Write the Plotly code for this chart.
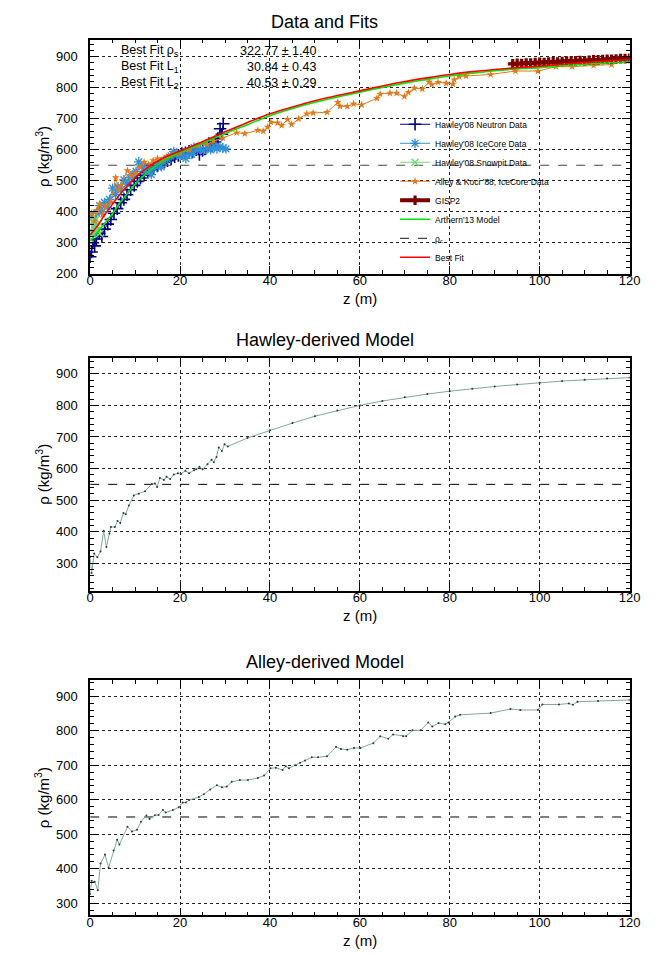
import plotly.graph_objects as go

# ---------------- data ----------------
Z_MIN, Z_MAX = 0, 120
RHO_C = 550

neutron_z = [0.0, 0.3, 0.6, 1.0, 1.4, 2.0, 2.6, 3.2, 3.9, 4.6, 5.3, 6.0, 6.8, 7.5, 8.2, 9.0, 9.8, 10.5, 11.2, 12.0,
             12.8, 13.5, 14.1, 15.0, 15.8, 16.5, 17.2, 18.0, 18.8, 19.6, 20.4, 21.2, 22.0, 22.8, 23.6, 24.3, 25.0,
             25.7, 26.4, 27.1, 27.8, 28.4, 28.9, 29.3, 29.6]
neutron_rho = [255, 270, 300, 290, 312, 330, 320, 344, 360, 375, 395, 410, 429, 440, 455, 471, 485, 498, 509, 518,
               528, 535, 540, 548, 555, 560, 565, 570, 578, 582, 588, 590, 595, 593, 600, 585, 598, 605, 620, 612,
               625, 636, 668, 650, 684]

icecore_z = [0.2, 0.6, 1.0, 1.5, 2.1, 2.6, 3.2, 3.8, 4.3, 5.0, 5.6, 6.2, 6.8, 7.5, 8.2, 8.8, 9.5, 10.2, 10.8, 11.5,
             12.2, 13.0, 13.6, 14.2, 15.0, 15.8, 16.4, 17.2, 18.0, 18.6, 19.3, 20.0, 20.7, 21.3, 22.0, 22.6, 23.1,
             23.8, 24.5, 25.2, 26.0, 26.8, 27.5, 28.2, 28.9, 29.5, 30.2]
icecore_rho = [385, 330, 360, 395, 420, 400, 430, 415, 440, 476, 455, 480, 470, 503, 490, 510, 520, 530, 561, 545,
               530, 545, 520, 540, 555, 545, 560, 570, 580, 594, 585, 578, 590, 572, 595, 585, 608, 598, 603, 596,
               608, 600, 612, 603, 610, 605, 603]

snowpit_z = [0.1, 0.3, 0.5, 0.7, 0.9, 1.1, 1.3, 1.6, 1.9, 2.1]
snowpit_rho = [310, 340, 370, 330, 385, 350, 375, 340, 365, 330]

alley_z = [0.3, 1.0, 1.5, 2.1, 2.8, 3.5, 4.6, 5.7, 6.3, 6.8,
           8.3, 9.0, 10.0, 11.0, 12.0, 13.0, 14.0, 15.0, 16.0, 17.0,
           18.0, 19.0, 20.0, 22.0, 24.0, 26.0, 27.5, 29.5, 32.6, 34.4,
           37.3, 38.5, 39.5, 40.2, 41.7, 42.6, 43.9, 44.8, 46.4, 48.2,
           49.6, 52.7, 55.1, 55.6, 57.2, 58.6, 60.4, 63.8, 64.5, 66.7,
           68.2, 69.9, 70.8, 72.1, 73.9, 75.4, 76.0, 77.4, 79.2, 80.7,
           81.0, 82.1, 83.6, 89.1, 94.6, 99.6, 103.6, 107.2, 112, 116]
alley_rho = [395, 370, 405, 425, 390, 420, 432, 510, 470, 485,
             533, 515, 525, 545, 560, 553, 565, 572, 568, 578,
             580, 588, 590, 600, 615, 618, 628, 638, 655, 652,
             663, 660, 673, 689, 687, 679, 698, 682, 700, 716,
             719, 721, 753, 740, 740, 748, 745, 766, 780, 783,
             783, 772, 785, 799, 796, 819, 810, 818, 815, 812,
             826, 836, 838, 843, 854, 854, 868, 868, 872, 875]

gisp2_z = [94, 95, 96, 97, 98, 99, 100, 101, 102, 103, 104, 105, 106, 107, 108, 109, 110, 111, 112, 113, 114,
           115, 116, 117, 118, 119, 120]
gisp2_rho = [877, 879, 878, 880, 880, 881, 882, 881, 883, 884, 883, 885, 886, 886, 887, 888, 887, 889, 890, 890,
             891, 892, 892, 893, 894, 894, 895]

model_z = [0, 1, 2, 3, 5, 7, 9, 11, 13, 15, 17, 20, 22.5, 25, 27.5, 30, 32.5, 35, 40, 45, 50, 55, 60, 65, 70,
           75, 80, 85, 90, 95, 100, 105, 110, 115, 120]
arthern_rho = [305, 322, 340, 358, 395, 437, 472, 504, 530, 552, 570, 592, 607, 621, 637, 652, 667, 681, 710, 733,
               753, 770, 786, 801, 815, 827, 838, 847, 855, 861, 865, 871, 876, 880, 884]
bestfit_rho = [325, 343, 362, 385, 425, 463, 495, 523, 545, 563, 578, 596, 611, 626, 642, 658, 673, 688, 716, 738,
               758, 775, 790, 806, 820, 832, 843, 852, 859, 865, 870, 876, 881, 886, 891]

hawley_model_z = [0, 0.3, 0.9, 1.6, 2.3, 3.0, 3.6, 4.3, 4.6, 5.5, 6.1, 6.7, 7.4, 7.9, 8.6, 9.7, 10.8, 12.2, 13.7,
                  14.4, 14.9, 15.5, 16.4, 17.0, 17.8, 18.6, 19.5, 20.2, 21.2, 22.0, 23.1, 23.6, 24.3, 25.0, 26.1,
                  27.0, 27.5, 28.1, 28.6, 29.3, 29.9, 30.6, 35, 40, 45, 50, 55, 60, 65, 70, 75, 80, 85, 90, 95,
                  100, 105, 110, 115, 120]
hawley_model_rho = [321, 269, 331, 319, 337, 403, 352, 394, 415, 415, 434, 428, 459, 455, 483, 515, 520, 528, 551,
                    553, 542, 570, 564, 574, 567, 581, 585, 583, 593, 585, 595, 598, 606, 598, 614,
                    628, 620, 637, 667, 656, 677, 670, 697, 721, 744, 766, 784, 800, 814, 826, 836, 845, 853, 860,
                    866, 872, 877, 881, 885, 888]

alley_model_z = [0, 0.3, 1.0, 1.7, 2.3, 3.3, 4.1, 5.2, 6.0, 6.5,
                 8.3, 9.3, 10.4, 11.3, 12.5, 13.2, 14.4, 15.2, 16.2, 16.8,
                 18.4, 19.7, 20.6, 21.3, 22.0, 24.2, 25.3, 26.7, 28.2, 29.3,
                 30.4, 31.5, 33.3, 35.1, 37.3, 38.7, 40.1, 41.3, 42.8, 43.5,
                 44.2, 45.6, 46.7, 47.8, 49.3, 50.7, 52.7, 54.7, 55.8, 57.2,
                 58.7, 60.1, 63.0, 64.5, 66.3, 67.4, 69.6, 70.3, 71.7, 73.5,
                 75.2, 76.1, 77.5, 79.0, 79.7, 81.2, 82.3, 89.1, 93.5, 95.7,
                 99.6, 100.6, 104.3, 106.5, 107.4, 108.4, 113.0, 120.0]
alley_model_rho = [327, 365, 362, 338, 415, 441, 403, 453, 484, 470,
                   522, 508, 513, 536, 554, 544, 555, 556, 570, 563,
                   570, 578, 592, 592, 599, 608, 616, 630, 642, 636,
                   638, 652, 657, 657, 663, 670, 691, 693, 686, 697,
                   691, 700, 707, 714, 723, 723, 726, 753, 747, 745,
                   750, 750, 764, 784, 777, 789, 784, 784, 801, 801,
                   824, 812, 822, 819, 824, 841, 846, 851, 863, 860,
                   860, 876, 876, 879, 875, 884, 886, 889]

fit_labels = ["Best Fit ρ<sub>s</sub>", "Best Fit L<sub>1</sub>", "Best Fit L<sub>2</sub>"]
fit_values = ["322.77 ± 1.40", "30.84 ± 0.43", "40.53 ± 0.29"]
panel_titles = ["Data and Fits", "Hawley-derived Model", "Alley-derived Model"]

# ---------------- layout geometry ----------------
W, H = 657, 957
FONT = "Liberation Sans, Arial, Helvetica, sans-serif"


def px_x(p):
    return p / W


def px_y(p):
    return 1 - p / H


X0, X1 = 80, 632
panels = [(32, 268, [200, 955]), (353, 588, [212, 950]), (678, 915, [265, 946])]

fig = go.Figure()

# top panel traces
fig.add_trace(go.Scatter(x=neutron_z, y=neutron_rho, mode="lines+markers", name="Hawley'08 Neutron Data",
                         line=dict(color="#000080", width=1),
                         marker=dict(symbol="cross-thin", size=9, line=dict(color="#000080", width=1.6)),
                         xaxis="x", yaxis="y"))
fig.add_trace(go.Scatter(x=icecore_z, y=icecore_rho, mode="lines+markers", name="Hawley'08 IceCore Data",
                         line=dict(color="#2e8fd6", width=1),
                         marker=dict(symbol="asterisk", size=8, line=dict(color="#2e8fd6", width=1.3)),
                         xaxis="x", yaxis="y"))
fig.add_trace(go.Scatter(x=snowpit_z, y=snowpit_rho, mode="lines+markers", name="Hawley'08 Snowpit Data",
                         line=dict(color="#72d872", width=1),
                         marker=dict(symbol="x-thin", size=7, line=dict(color="#72d872", width=1.3)),
                         xaxis="x", yaxis="y"))
fig.add_trace(go.Scatter(x=alley_z, y=alley_rho, mode="lines+markers", name="Alley & Koci '88, IceCore Data",
                         line=dict(color="#e07a1c", width=1),
                         marker=dict(symbol="star", size=6, color="#e07a1c"),
                         xaxis="x", yaxis="y"))
fig.add_trace(go.Scatter(x=gisp2_z, y=gisp2_rho, mode="lines+markers", name="GISP2",
                         line=dict(color="#7a0000", width=4),
                         marker=dict(symbol="cross", size=8, color="#7a0000"),
                         xaxis="x", yaxis="y"))
fig.add_trace(go.Scatter(x=model_z, y=arthern_rho, mode="lines", name="Arthern'13 Model",
                         line=dict(color="#00e600", width=1.6, shape="spline"),
                         xaxis="x", yaxis="y"))
fig.add_trace(go.Scatter(x=[Z_MIN, Z_MAX], y=[RHO_C, RHO_C], mode="lines", name="ρ<sub>c</sub>",
                         line=dict(color="#444", width=1.2, dash="dash"),
                         xaxis="x", yaxis="y"))
fig.add_trace(go.Scatter(x=model_z, y=bestfit_rho, mode="lines", name="Best Fit",
                         line=dict(color="#ff0000", width=1.6, shape="spline"),
                         xaxis="x", yaxis="y"))

# middle and bottom panels
for i, (zz, rr) in enumerate([(hawley_model_z, hawley_model_rho), (alley_model_z, alley_model_rho)], start=2):
    fig.add_trace(go.Scatter(x=[Z_MIN, Z_MAX], y=[RHO_C, RHO_C], mode="lines", showlegend=False,
                             line=dict(color="black", width=1, dash="dash"),
                             xaxis=f"x{i}", yaxis=f"y{i}"))
    fig.add_trace(go.Scatter(x=zz, y=rr, mode="lines+markers", showlegend=False,
                             line=dict(color="#7fa898", width=1),
                             marker=dict(size=2, color="#333"),
                             xaxis=f"x{i}", yaxis=f"y{i}"))

axis_common = dict(showline=True, linecolor="black", linewidth=1.5, mirror="allticks",
                   ticks="inside", ticklen=8, tickwidth=1, tickcolor="black",
                   showgrid=True, gridcolor="#222", griddash="dot", gridwidth=1,
                   zeroline=False, tickfont=dict(size=13, color="black", family=FONT))

layout = dict(width=W, height=H, margin=dict(l=0, r=0, t=0, b=0),
              paper_bgcolor="white", plot_bgcolor="white",
              font=dict(family=FONT, color="black"),
              showlegend=True,
              legend=dict(x=px_x(392), y=px_y(266), xanchor="left", yanchor="bottom",
                          bgcolor="rgba(0,0,0,0)", font=dict(size=8.5, family=FONT),
                          itemwidth=30, tracegroupgap=0))

annotations = []
for k, (ytop, ybot, yr) in enumerate(panels):
    sfx = "" if k == 0 else str(k + 1)
    layout["xaxis" + sfx] = dict(axis_common, domain=[px_x(X0), px_x(X1)], range=[Z_MIN, Z_MAX],
                                 dtick=20, tick0=0, anchor="y" + sfx, ticklabelstandoff=-6,
                                 minor=dict(ticks="inside", ticklen=4, tickcolor="black", dtick=5,
                                            showgrid=False))
    layout["yaxis" + sfx] = dict(axis_common, domain=[px_y(ybot), px_y(ytop)], range=yr,
                                 dtick=100, tick0=0, anchor="x" + sfx, ticklabelstandoff=8,
                                 minor=dict(ticks="inside", ticklen=4, tickcolor="black", dtick=20,
                                            showgrid=False))
    # panel title
    annotations.append(dict(text=panel_titles[k], x=px_x(320), y=px_y(ytop - 18), xref="paper", yref="paper",
                            showarrow=False, font=dict(size=18, family=FONT), xanchor="center", yanchor="middle"))
    # x title
    annotations.append(dict(text="z (m)", x=px_x(356), y=px_y(ybot + 25), xref="paper", yref="paper",
                            showarrow=False, font=dict(size=15, family=FONT), xanchor="center", yanchor="middle"))
    # y title
    annotations.append(dict(text="ρ (kg/m<sup>3</sup>)", x=px_x(31), y=px_y((ytop + ybot) / 2),
                            xref="paper", yref="paper", textangle=-90,
                            showarrow=False, font=dict(size=15, family=FONT), xanchor="center", yanchor="middle"))

# best-fit text block
for j, (lab, val) in enumerate(zip(fit_labels, fit_values)):
    yy = px_y(43 + 16.5 * j)
    annotations.append(dict(text=lab, x=px_x(109), y=yy, xref="paper", yref="paper", showarrow=False,
                            xanchor="left", yanchor="middle", font=dict(size=12.5, family=FONT)))
    annotations.append(dict(text=val, x=px_x(313), y=yy, xref="paper", yref="paper", showarrow=False,
                            xanchor="right", yanchor="middle", font=dict(size=12.5, family=FONT)))

layout["annotations"] = annotations
fig.update_layout(**layout)

fig.write_html("out.html")
